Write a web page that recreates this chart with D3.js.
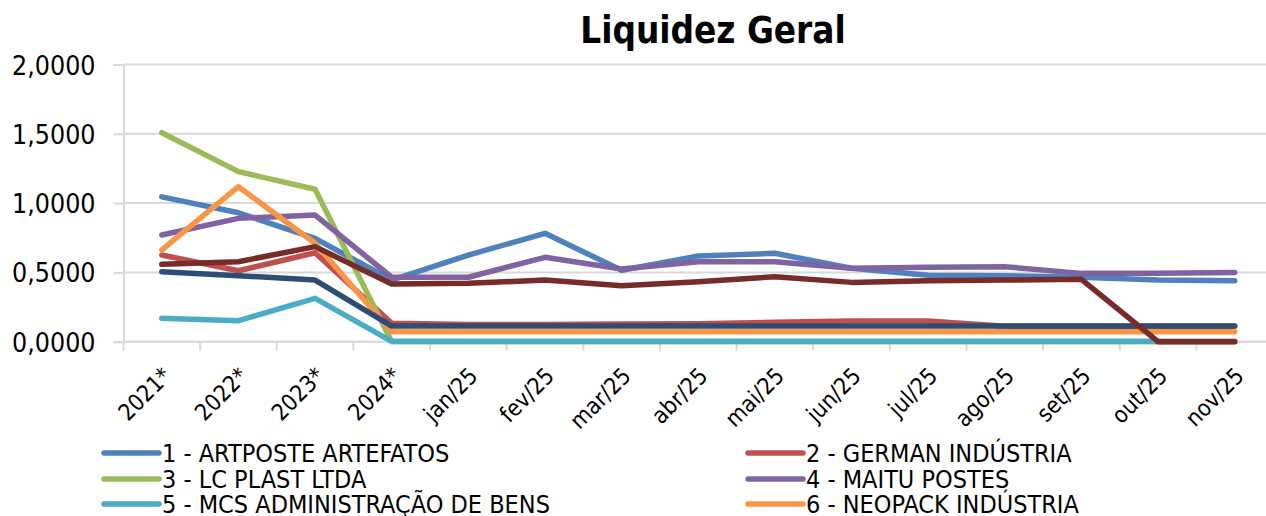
<!DOCTYPE html>
<html>
<head>
<meta charset="utf-8">
<script src="https://cdn.jsdelivr.net/npm/d3@7"></script>
<style>
  html, body { margin: 0; padding: 0; background: #fff; }
  svg { display: block; }
  text { font-family: "DejaVu Sans Condensed", "DejaVu Sans", sans-serif; fill: #000; }
</style>
</head>
<body>
<svg id="chart" width="1266" height="516"></svg>
<script>
// Categories (years marked * are annual closings, then monthly 2025)
const categories = ["2021*", "2022*", "2023*", "2024*", "jan/25", "fev/25", "mar/25", "abr/25",
  "mai/25", "jun/25", "jul/25", "ago/25", "set/25", "out/25", "nov/25"];

// Liquidez Geral per company
const artposte = [1.045, 0.930, 0.745, 0.445, 0.625, 0.782, 0.515, 0.618, 0.638, 0.530, 0.480, 0.476, 0.465, 0.445, 0.440];
const german   = [0.626, 0.512, 0.642, 0.133, 0.125, 0.125, 0.128, 0.130, 0.140, 0.150, 0.150, 0.112, 0.112, 0.112, 0.112];
const lcPlast  = [1.508, 1.227, 1.100, 0.000, 0.000, 0.000, 0.000, 0.000, 0.000, 0.000, 0.000, 0.000, 0.000, 0.000, 0.000];
const maitu    = [0.770, 0.890, 0.914, 0.465, 0.465, 0.609, 0.524, 0.577, 0.577, 0.530, 0.537, 0.541, 0.493, 0.493, 0.500];
const mcs      = [0.169, 0.152, 0.313, 0.003, 0.003, 0.003, 0.003, 0.003, 0.003, 0.003, 0.003, 0.003, 0.003, 0.003, 0.003];
const neopack  = [0.662, 1.118, 0.710, 0.072, 0.072, 0.072, 0.072, 0.072, 0.072, 0.072, 0.072, 0.072, 0.072, 0.072, 0.072];
const series7  = [0.505, 0.476, 0.445, 0.113, 0.113, 0.113, 0.113, 0.113, 0.113, 0.113, 0.113, 0.113, 0.113, 0.113, 0.113];
const series8  = [0.558, 0.577, 0.686, 0.416, 0.421, 0.445, 0.404, 0.433, 0.469, 0.428, 0.440, 0.445, 0.450, 0.000, 0.000];

const seriesValues = [artposte, german, lcPlast, maitu, mcs, neopack, series7, series8];
const seriesColors = ["#4f81bd", "#c0504d", "#9bbb59", "#8064a2", "#4bacc6", "#f79646", "#2c4d75", "#772c2a"];
const legendLabels = ["1 - ARTPOSTE ARTEFATOS", "2 - GERMAN INDÚSTRIA", "3 - LC PLAST LTDA",
  "4 - MAITU POSTES", "5 - MCS ADMINISTRAÇÃO DE BENS", "6 - NEOPACK INDÚSTRIA"];
const yTicks = [0, 0.5, 1.0, 1.5, 2.0];

const svg = d3.select("#chart");
const plot = { left: 123.5, right: 1273, top: 64.5, bottom: 341.7 };

const x = d3.scaleBand().domain(categories).range([plot.left, plot.right]).padding(0);
const y = d3.scaleLinear().domain([0, 2]).range([plot.bottom, plot.top]);
const cx = c => x(c) + x.bandwidth() / 2;

// Title
svg.append("text")
  .attr("x", 713).attr("y", 43)
  .attr("text-anchor", "middle")
  .style("font-size", "36.5px").style("font-weight", "bold")
  .text("Liquidez Geral");

// Horizontal gridlines
svg.append("g").selectAll("line").data(yTicks).join("line")
  .attr("x1", plot.left).attr("x2", plot.right)
  .attr("y1", d => y(d)).attr("y2", d => y(d))
  .attr("stroke", "#d9d9d9").attr("stroke-width", 2);

// Y axis
const fmt = v => d3.format(".4f")(v).replace(".", ",");
const yAxis = svg.append("g").attr("transform", `translate(${plot.left},0)`)
  .call(d3.axisLeft(y).tickValues(yTicks).tickFormat(fmt).tickSize(10).tickPadding(18));
yAxis.select(".domain").attr("stroke", "#d9d9d9").attr("stroke-width", 2);
yAxis.selectAll(".tick line").attr("stroke", "#d9d9d9").attr("stroke-width", 2);
yAxis.selectAll(".tick text")
  .style("font-size", "26.5px").style("font-family", "'DejaVu Sans Condensed', 'DejaVu Sans', sans-serif")
  .attr("fill", "#000").attr("dy", "0.36em");

// X axis: ticks at category boundaries, rotated labels centred under each category
const xAxisG = svg.append("g").attr("transform", `translate(0,${plot.bottom})`);
xAxisG.append("line").attr("x1", plot.left).attr("x2", plot.right)
  .attr("stroke", "#d9d9d9").attr("stroke-width", 2);
const boundaries = categories.map(c => x(c)).concat([plot.right]);
xAxisG.selectAll("line.tk").data(boundaries).join("line").attr("class", "tk")
  .attr("x1", d => d).attr("x2", d => d).attr("y1", 0).attr("y2", 9)
  .attr("stroke", "#d9d9d9").attr("stroke-width", 2);
xAxisG.selectAll("text").data(categories).join("text")
  .attr("transform", d => `translate(${cx(d) + 5},${30}) rotate(-45)`)
  .attr("text-anchor", "end").attr("dy", "0.35em")
  .style("font-size", "23px")
  .text(d => d);

// Series lines
const line = d3.line().x((d, i) => cx(categories[i])).y(d => y(d));
svg.append("g").selectAll("path").data(seriesValues).join("path")
  .attr("d", d => line(d))
  .attr("fill", "none")
  .attr("stroke", (d, i) => seriesColors[i])
  .attr("stroke-width", 5.5)
  .attr("stroke-linejoin", "round").attr("stroke-linecap", "round");

// Legend (two columns)
const legend = svg.append("g");
const legendRows = [453, 479, 504];
const legendCols = [104, 748];
legendLabels.forEach((label, i) => {
  const col = i % 2, row = Math.floor(i / 2);
  const g = legend.append("g").attr("transform", `translate(${legendCols[col]},${legendRows[row]})`);
  g.append("line").attr("x1", 0).attr("x2", 55).attr("y1", 0).attr("y2", 0)
    .attr("stroke", seriesColors[i]).attr("stroke-width", 5.5).attr("stroke-linecap", "round");
  g.append("text").attr("x", 58).attr("y", 0).attr("dy", "0.36em")
    .style("font-size", "25px").text(label);
});
</script>
</body>
</html>
